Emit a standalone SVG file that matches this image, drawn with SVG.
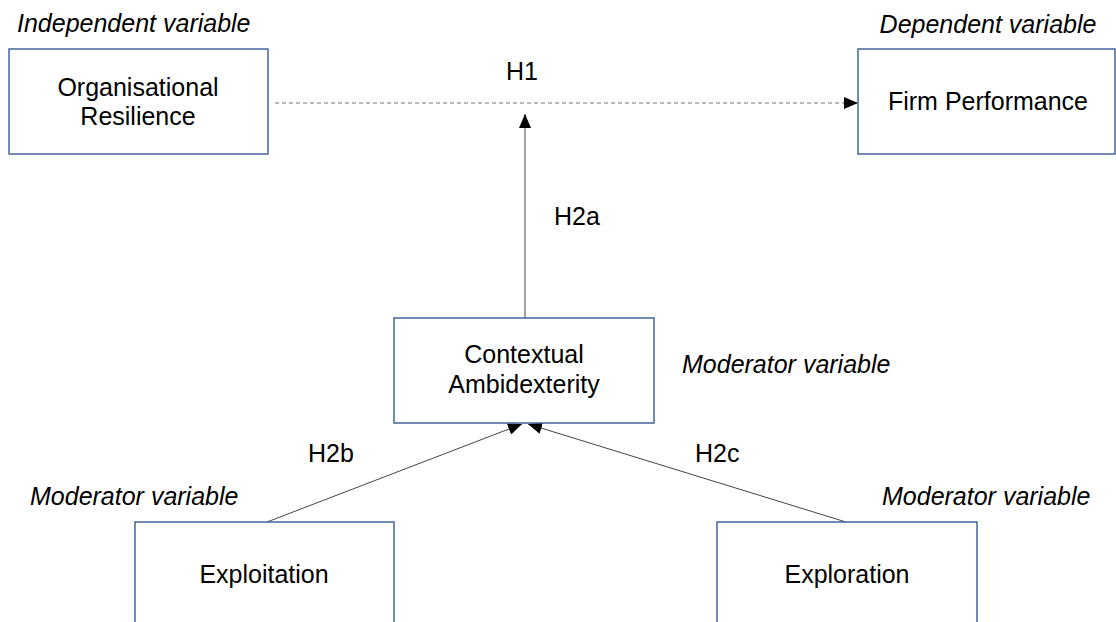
<svg xmlns="http://www.w3.org/2000/svg" width="1116" height="622" viewBox="0 0 1116 622">
<defs>
<style>
.box{fill:#fff;stroke:#44659c;stroke-width:1.5}
.t{font-family:"Liberation Sans",Arial,sans-serif;font-size:25px;fill:#000}
.c{text-anchor:middle}
.i{font-style:italic}
.ln{stroke:#444;stroke-width:1;fill:none}
.dash{stroke:#777;stroke-width:1;stroke-dasharray:4 3;fill:none}
</style>
<marker id="ah" viewBox="0 0 14 12" refX="14" refY="6" markerWidth="14" markerHeight="12" markerUnits="userSpaceOnUse" orient="auto">
<path d="M0,0 L14,6 L0,12 Z" fill="#000"/>
</marker>
</defs>
<rect width="1116" height="622" fill="#fff"/>
<g id="connectors">
<line class="dash" x1="275" y1="103" x2="858" y2="103" marker-end="url(#ah)"/>
<line class="ln" x1="525" y1="318" x2="525" y2="114" marker-end="url(#ah)"/>
<line class="ln" x1="267" y1="522" x2="522" y2="424" marker-end="url(#ah)"/>
<line class="ln" x1="846" y1="522" x2="528" y2="424" marker-end="url(#ah)"/>
<text class="t c" x="522" y="80">H1</text>
<text class="t" x="554" y="225">H2a</text>
<text class="t" x="308" y="462">H2b</text>
<text class="t" x="695" y="462">H2c</text>
</g>
<g id="node-resilience">
<text class="t i" x="17" y="32">Independent variable</text>
<rect class="box" x="9" y="49" width="259" height="105"/>
<text class="t c" x="138" y="96">Organisational</text>
<text class="t c" x="138" y="125">Resilience</text>
</g>
<g id="node-performance">
<text class="t i c" x="988" y="33">Dependent variable</text>
<rect class="box" x="858" y="49" width="257" height="105"/>
<text class="t c" x="988" y="110">Firm Performance</text>
</g>
<g id="node-ambidexterity">
<rect class="box" x="394" y="318" width="260" height="105"/>
<text class="t c" x="524" y="363">Contextual</text>
<text class="t c" x="524" y="393">Ambidexterity</text>
<text class="t i" x="682" y="373">Moderator variable</text>
</g>
<g id="node-exploitation">
<text class="t i" x="30" y="505">Moderator variable</text>
<rect class="box" x="135" y="522" width="259" height="110"/>
<text class="t c" x="264" y="583">Exploitation</text>
</g>
<g id="node-exploration">
<text class="t i" x="882" y="505">Moderator variable</text>
<rect class="box" x="717" y="522" width="260" height="110"/>
<text class="t c" x="847" y="583">Exploration</text>
</g>
</svg>
